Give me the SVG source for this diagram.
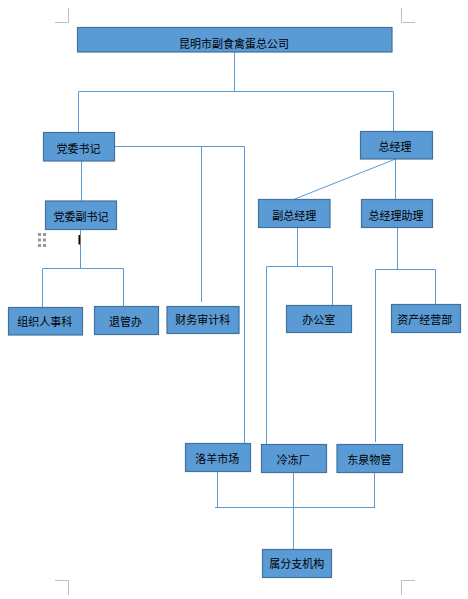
<svg xmlns="http://www.w3.org/2000/svg" width="468" height="599" viewBox="0 0 468 599">
<style>
.box{fill:#5B9BD5;stroke:#41719C;stroke-width:1.2}
.t{font-family:"Noto Sans CJK SC","Noto Sans",sans-serif;font-size:11px;fill:#000;text-anchor:middle}
.ln{fill:none;stroke:#5B9BD5;stroke-width:1}
.cm{fill:none;stroke:#BFBFBF;stroke-width:1}
</style>
<rect width="468" height="599" fill="#fff"/>
<g id="cornermarks">
<path class="cm" d="M68.5 8V22.5H55M401.5 8V22.5H415M55 580.5H68.5V595M415 580.5H401.5V595"/>
</g>
<g id="connectors">
<path class="ln" d="M234.5 52V91.5M78.5 91.5H393.5M78.5 91.5V132M393.5 91.5V131"/>
<path class="ln" d="M81.5 161V201M115 146.5H244.5V443M201.5 146.5V302"/>
<path class="ln" d="M80.5 229.5V268.5M42.5 268.5H123.5M42.5 268.5V307M123.5 268.5V306"/>
<path class="ln" d="M395.5 159L293.5 199.5M395.5 159V199"/>
<path class="ln" d="M297.5 228V266.5M266.5 266.5H332.5M266.5 266.5V444M332.5 266.5V305"/>
<path class="ln" d="M397.5 228V269.5M375.5 269.5H435.5M375.5 269.5V442M435.5 269.5V304"/>
<path class="ln" d="M217.5 472V508M215 507.5H375M374.5 472V508M293.5 472V549"/>
</g>
<g id="n-top"><rect class="box" x="77.5" y="27.5" width="314.5" height="24.5"/><text class="t" x="234" y="47.5">昆明市副食禽蛋总公司</text></g>
<g id="n-dwsj"><rect class="box" x="43.5" y="132.5" width="71" height="28.5"/><text class="t" x="78.5" y="152.5">党委书记</text></g>
<g id="n-zjl"><rect class="box" x="360.5" y="131.5" width="72" height="27.5"/><text class="t" x="395" y="150.7">总经理</text></g>
<g id="n-dwfsj"><rect class="box" x="45.5" y="201" width="71" height="28.5"/><text class="t" x="81" y="221">党委副书记</text></g>
<g id="n-fzjl"><rect class="box" x="258.5" y="199.5" width="71.5" height="28"/><text class="t" x="294.3" y="219.7">副总经理</text></g>
<g id="n-zjlzl"><rect class="box" x="361.5" y="199.5" width="71" height="28"/><text class="t" x="396" y="219.7">总经理助理</text></g>
<g id="n-zzrsk"><rect class="box" x="8.5" y="307.5" width="74" height="27.5"/><text class="t" x="44.8" y="325.5">组织人事科</text></g>
<g id="n-tgb"><rect class="box" x="94.5" y="306.5" width="64" height="28"/><text class="t" x="125.5" y="325.5">退管办</text></g>
<g id="n-cwsjk"><rect class="box" x="167" y="306.5" width="72" height="27"/><text class="t" x="202.8" y="324.3">财务审计科</text></g>
<g id="n-bgs"><rect class="box" x="286.5" y="305.5" width="65" height="27"/><text class="t" x="318.7" y="324">办公室</text></g>
<g id="n-zcjyb"><rect class="box" x="391.5" y="304.5" width="69" height="28"/><text class="t" x="424.7" y="324">资产经营部</text></g>
<g id="n-lysc"><rect class="box" x="185.5" y="443.5" width="65" height="28"/><text class="t" x="217.3" y="463.3">洛羊市场</text></g>
<g id="n-ldc"><rect class="box" x="261.5" y="444.5" width="65" height="28"/><text class="t" x="293.3" y="464">冷冻厂</text></g>
<g id="n-dqwg"><rect class="box" x="337" y="444.5" width="65.5" height="28"/><text class="t" x="369.3" y="464">东泉物管</text></g>
<g id="n-sfzjg"><rect class="box" x="262.5" y="549.5" width="69" height="28"/><text class="t" x="296.8" y="568.3">属分支机构</text></g>
<g id="artifacts">
<g fill="#999"><rect x="38" y="233" width="3" height="3"/><rect x="43" y="233" width="3" height="3"/><rect x="38" y="238.5" width="3" height="3"/><rect x="43" y="238.5" width="3" height="3"/><rect x="38" y="244" width="3" height="3"/><rect x="43" y="244" width="3" height="3"/></g>
<rect x="78.5" y="235" width="1.5" height="9.5" fill="#000"/><rect x="80" y="235" width="0.8" height="9.5" fill="#C55A11"/>
</g>
</svg>
